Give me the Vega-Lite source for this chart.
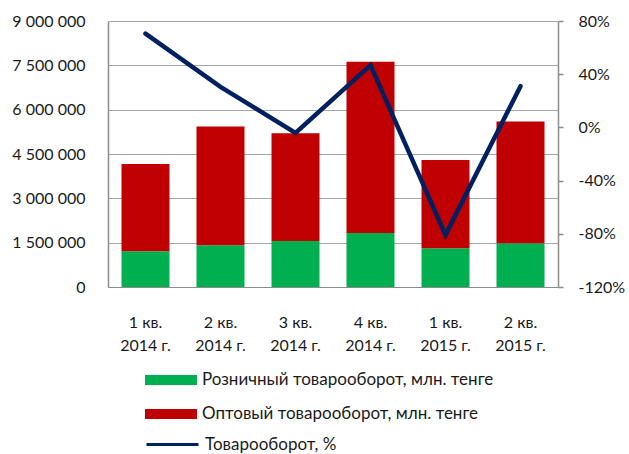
{
  "$schema": "https://vega.github.io/schema/vega-lite/v6.json",
  "width": 450,
  "height": 266,
  "autosize": {"type": "none"},
  "padding": {"left": 108, "top": 21, "right": 71, "bottom": 167},
  "datasets": {
    "bars": [
      {"q": "1 кв. 2014 г.", "series": "Розничный товарооборот, млн. тенге", "ord": 1, "value": 1210000},
      {"q": "1 кв. 2014 г.", "series": "Оптовый товарооборот, млн. тенге", "ord": 2, "value": 2950000},
      {"q": "2 кв. 2014 г.", "series": "Розничный товарооборот, млн. тенге", "ord": 1, "value": 1410000},
      {"q": "2 кв. 2014 г.", "series": "Оптовый товарооборот, млн. тенге", "ord": 2, "value": 4020000},
      {"q": "3 кв. 2014 г.", "series": "Розничный товарооборот, млн. тенге", "ord": 1, "value": 1560000},
      {"q": "3 кв. 2014 г.", "series": "Оптовый товарооборот, млн. тенге", "ord": 2, "value": 3640000},
      {"q": "4 кв. 2014 г.", "series": "Розничный товарооборот, млн. тенге", "ord": 1, "value": 1830000},
      {"q": "4 кв. 2014 г.", "series": "Оптовый товарооборот, млн. тенге", "ord": 2, "value": 5790000},
      {"q": "1 кв. 2015 г.", "series": "Розничный товарооборот, млн. тенге", "ord": 1, "value": 1310000},
      {"q": "1 кв. 2015 г.", "series": "Оптовый товарооборот, млн. тенге", "ord": 2, "value": 2990000},
      {"q": "2 кв. 2015 г.", "series": "Розничный товарооборот, млн. тенге", "ord": 1, "value": 1480000},
      {"q": "2 кв. 2015 г.", "series": "Оптовый товарооборот, млн. тенге", "ord": 2, "value": 4120000}
    ],
    "line": [
      {"q": "1 кв. 2014 г.", "name": "Товарооборот, %", "pct": 0.705},
      {"q": "2 кв. 2014 г.", "name": "Товарооборот, %", "pct": 0.305},
      {"q": "3 кв. 2014 г.", "name": "Товарооборот, %", "pct": -0.042},
      {"q": "4 кв. 2014 г.", "name": "Товарооборот, %", "pct": 0.468},
      {"q": "1 кв. 2015 г.", "name": "Товарооборот, %", "pct": -0.808},
      {"q": "2 кв. 2015 г.", "name": "Товарооборот, %", "pct": 0.31}
    ]
  },
  "layer": [
    {
      "data": {"name": "bars"},
      "mark": {"type": "bar"},
      "encoding": {
        "x": {
          "field": "q", "type": "nominal", "sort": null,
          "scale": {"paddingInner": 0.36, "paddingOuter": 0.18},
          "axis": {
            "title": null, "labelAngle": 0, "ticks": false,
            "domain": true, "domainColor": "#8c8c8c", "domainWidth": 1,
            "labelExpr": "[substring(datum.label, 0, 5), substring(datum.label, 6)]",
            "labelPadding": 35, "labelLineHeight": 23, "labelBaseline": "middle"
          }
        },
        "y": {
          "field": "value", "type": "quantitative", "stack": "zero",
          "scale": {"domain": [0, 9000000], "nice": false},
          "axis": {
            "title": null, "orient": "left",
            "values": [0, 1500000, 3000000, 4500000, 6000000, 7500000, 9000000],
            "format": ",d", "ticks": false, "labelPadding": 23,
            "grid": true, "gridColor": "#a6a6a6", "gridWidth": 1.2,
            "domain": true, "domainColor": "#8c8c8c", "domainWidth": 1.5
          }
        },
        "color": {
          "field": "series", "type": "nominal",
          "scale": {
            "domain": ["Розничный товарооборот, млн. тенге", "Оптовый товарооборот, млн. тенге"],
            "range": ["#00B050", "#C00000"]
          },
          "legend": {
            "title": null, "orient": "none", "direction": "vertical",
            "legendX": 37, "legendY": 333,
            "symbolType": "M-1,-0.19H1V0.19H-1Z", "symbolSize": 2704,
            "symbolStrokeWidth": 0, "labelOffset": 5, "rowPadding": 0, "labelLimit": 400
          }
        },
        "order": {"field": "ord", "type": "quantitative"}
      }
    },
    {
      "data": {"name": "line"},
      "mark": {"type": "line", "strokeWidth": 4.5, "strokeCap": "round", "strokeJoin": "miter"},
      "encoding": {
        "x": {"field": "q", "type": "nominal", "sort": null},
        "y": {
          "field": "pct", "type": "quantitative",
          "scale": {"domain": [-1.2, 0.8], "nice": false},
          "axis": {
            "title": null, "orient": "right",
            "values": [-1.2, -0.8, -0.4, 0, 0.4, 0.8],
            "format": ".0%", "grid": false,
            "ticks": true, "tickSize": 5, "tickColor": "#8c8c8c", "tickWidth": 1.5,
            "labelPadding": 15,
            "domain": true, "domainColor": "#8c8c8c", "domainWidth": 1.5
          }
        },
        "stroke": {
          "field": "name", "type": "nominal",
          "scale": {"domain": ["Товарооборот, %"], "range": ["#002060"]},
          "legend": {
            "title": null, "orient": "none", "direction": "vertical",
            "legendX": 37, "legendY": 396,
            "symbolType": "stroke", "symbolSize": 2704, "symbolStrokeWidth": 3,
            "labelOffset": 5, "labelLimit": 400
          }
        }
      }
    }
  ],
  "resolve": {"scale": {"y": "independent"}},
  "config": {
    "locale": {"number": {"decimal": ",", "thousands": " ", "grouping": [3], "currency": ["", ""], "percent": "%", "minus": "-"}},
    "view": {"stroke": null},
    "font": "Lato",
    "axis": {"labelFont": "Lato", "labelFontSize": 16, "labelColor": "#1a1a1a"},
    "legend": {"labelFont": "Lato", "labelFontSize": 17, "labelColor": "#1a1a1a", "padding": 0}
  }
}
